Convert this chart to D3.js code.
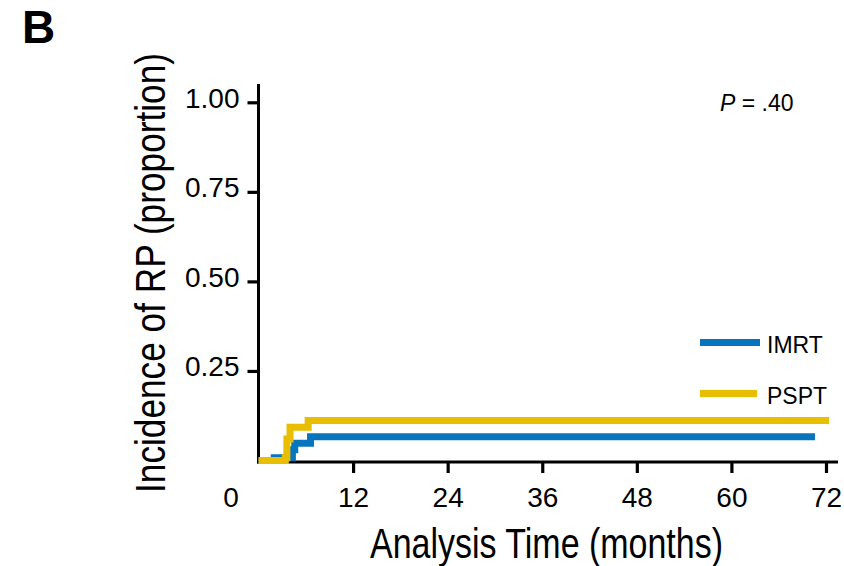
<!DOCTYPE html>
<html>
<head>
<meta charset="utf-8">
<script src="https://cdn.jsdelivr.net/npm/d3@7"></script>
<style>
  html, body { margin: 0; padding: 0; background: #fff; }
  svg { display: block; }
  text { font-family: "Liberation Sans", Arial, Helvetica, sans-serif; fill: #000; }
</style>
</head>
<body>
<svg id="chart" width="844" height="566"></svg>
<script>
// Cumulative incidence of RP by treatment arm (months, proportion)
const seriesNames = ["IMRT", "PSPT"];
const seriesColors = ["#0775bd", "#e9bd00"];
const imrtTimes  = [0, 2.0, 4.3, 4.6, 6.6, 70.6];
const imrtValues = [0, 0.008, 0.03, 0.048, 0.066, 0.066];
const psptTimes  = [0, 3.4, 3.6, 4.0, 6.3, 72.4];
const psptValues = [0, 0.008, 0.06, 0.093, 0.112, 0.112];
const xTickValues = [0, 12, 24, 36, 48, 60, 72];
const yTickValues = [0.25, 0.5, 0.75, 1.0];
const yTickLabels = ["0.25", "0.50", "0.75", "1.00"];
const pValueLabel = ".40";

const svg = d3.select("#chart");

const x = d3.scaleLinear().domain([0, 72]).range([258.5, 826]);
const y = d3.scaleLinear().domain([0, 1]).range([460.5, 102.3]);
const axisY = 462;

// Panel letter
svg.append("text")
  .attr("x", 22).attr("y", 43)
  .style("font-size", "46px").style("font-weight", "bold")
  .text("B");

// Y axis
const gy = svg.append("g").attr("transform", `translate(${x(0)},0)`)
  .call(d3.axisLeft(y).tickValues(yTickValues).tickSize(11).tickPadding(8)
    .tickFormat((d, i) => yTickLabels[i]));
gy.select(".domain").remove();
gy.selectAll(".tick line").attr("stroke", "#000").attr("stroke-width", 3.2);
gy.selectAll(".tick text").attr("dy", "5px").style("font-size", "28px")
  .style("font-family", "'Liberation Sans', Arial, sans-serif");
gy.append("line").attr("x1", 0).attr("x2", 0).attr("y1", 84).attr("y2", axisY + 1.5)
  .attr("stroke", "#000").attr("stroke-width", 3);

// X axis
const gx = svg.append("g").attr("transform", `translate(0,${axisY})`)
  .call(d3.axisBottom(x).tickValues(xTickValues).tickSize(11).tickPadding(14)
    .tickFormat(d3.format("d")));
gx.select(".domain").remove();
gx.selectAll(".tick line").attr("stroke", "#000").attr("stroke-width", 3.2);
gx.selectAll(".tick text").style("font-size", "28px")
  .style("font-family", "'Liberation Sans', Arial, sans-serif");
// origin label sits left of the axis corner, no tick mark
gx.selectAll(".tick").filter(d => d === 0).each(function () {
  d3.select(this).select("line").remove();
  d3.select(this).select("text").attr("x", -28);
});
gx.append("line").attr("x1", x(0) - 1.5).attr("x2", 838).attr("y1", 0).attr("y2", 0)
  .attr("stroke", "#000").attr("stroke-width", 2.8);

// Axis titles
svg.append("text")
  .attr("x", 546.5).attr("y", 557.5)
  .attr("text-anchor", "middle")
  .attr("textLength", 353).attr("lengthAdjust", "spacingAndGlyphs")
  .style("font-size", "42px")
  .style("font-family", "'Liberation Sans Narrow', 'Liberation Sans', Arial, sans-serif")
  .text("Analysis Time (months)");

svg.append("text")
  .attr("transform", "translate(165,273) rotate(-90)")
  .attr("text-anchor", "middle")
  .attr("textLength", 440).attr("lengthAdjust", "spacingAndGlyphs")
  .style("font-size", "43px")
  .style("font-family", "'Liberation Sans Narrow', 'Liberation Sans', Arial, sans-serif")
  .text("Incidence of RP (proportion)");

// Step curves
const series = [
  { name: seriesNames[0], color: seriesColors[0], pts: imrtTimes.map((t, i) => [t, imrtValues[i]]) },
  { name: seriesNames[1], color: seriesColors[1], pts: psptTimes.map((t, i) => [t, psptValues[i]]) }
];
const line = d3.line().x(d => x(d[0])).y(d => y(d[1])).curve(d3.curveStepAfter);
svg.append("g").selectAll("path").data(series).join("path")
  .attr("d", d => line(d.pts))
  .attr("fill", "none")
  .attr("stroke", d => d.color)
  .attr("stroke-width", 7)
  .attr("stroke-linejoin", "miter")
  .attr("stroke-linecap", "butt");

// Legend
const legendY = [342.5, 393.5];
const legendX2 = [760, 757];
const lg = svg.append("g");
series.forEach((s, i) => {
  lg.append("line").attr("x1", 700).attr("x2", legendX2[i])
    .attr("y1", legendY[i]).attr("y2", legendY[i])
    .attr("stroke", s.color).attr("stroke-width", 7);
  lg.append("text").attr("x", 767).attr("y", legendY[i] + 10)
    .style("font-size", "23px").text(s.name);
});

// P value
const pt = svg.append("text").attr("x", 720).attr("y", 111).style("font-size", "23px");
pt.append("tspan").style("font-style", "italic").text("P");
pt.append("tspan").text(" = " + pValueLabel);
</script>
</body>
</html>
